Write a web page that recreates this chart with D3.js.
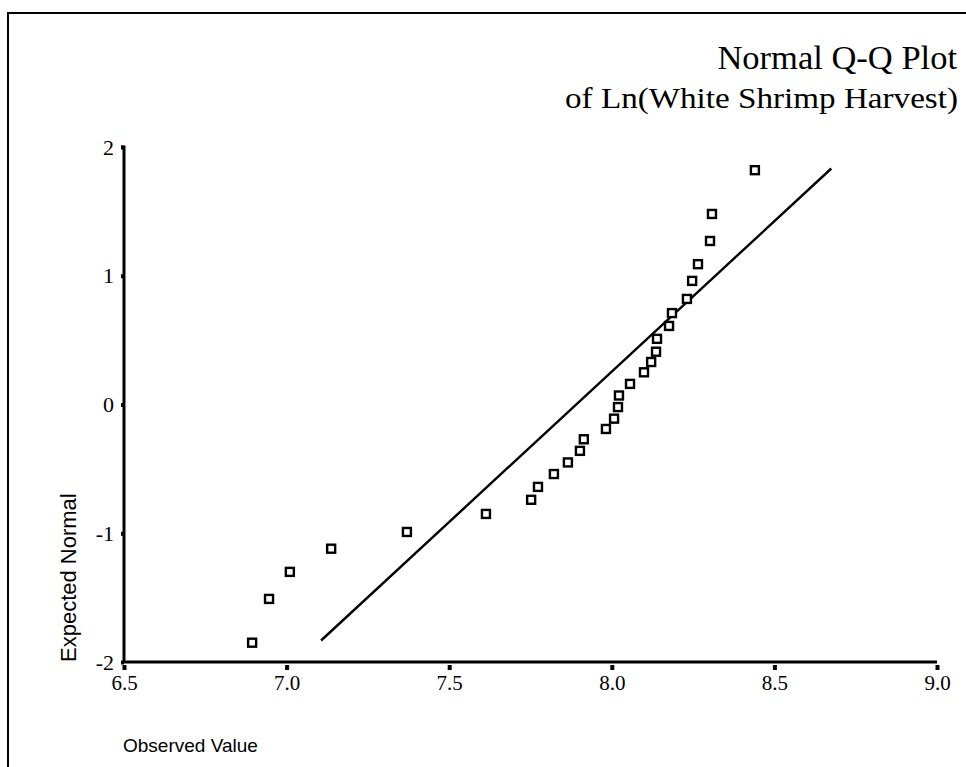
<!DOCTYPE html>
<html>
<head>
<meta charset="utf-8">
<script src="https://cdn.jsdelivr.net/npm/d3@7"></script>
<style>
  body { margin: 0; background: #fff; }
  svg { display: block; }
</style>
</head>
<body>
<svg id="chart" width="966" height="767"></svg>
<script>
// Observed values (Ln of white shrimp harvest)
const observed = [6.894, 6.946, 7.010, 7.137, 7.370, 7.613, 7.752, 7.773, 7.822, 7.865,
  7.902, 7.914, 7.982, 8.007, 8.019, 8.022, 8.056, 8.099, 8.121, 8.136,
  8.139, 8.176, 8.185, 8.231, 8.247, 8.265, 8.302, 8.308, 8.440];
// Expected normal values
const expected = [-1.85, -1.51, -1.30, -1.12, -0.99, -0.85, -0.74, -0.64, -0.54, -0.45,
  -0.36, -0.27, -0.19, -0.11, -0.02, 0.07, 0.16, 0.25, 0.33, 0.41,
  0.51, 0.61, 0.71, 0.82, 0.96, 1.09, 1.27, 1.48, 1.82];
// Reference line endpoints
const lineX = [7.106, 8.675];
const lineY = [-1.833, 1.833];
const xTicks = [6.5, 7.0, 7.5, 8.0, 8.5, 9.0];
const yTicks = [-2, -1, 0, 1, 2];

const serif = "Liberation Serif, Times New Roman, serif";
const sans = "Liberation Sans, Arial, sans-serif";

const svg = d3.select("#chart");
const x = d3.scaleLinear().domain([6.5, 9.0]).range([124, 937]);
const y = d3.scaleLinear().domain([-2, 2]).range([662, 147]);

// frame
svg.append("line").attr("x1", 7).attr("x2", 966).attr("y1", 13).attr("y2", 13)
  .attr("stroke", "#000").attr("stroke-width", 2);
svg.append("line").attr("x1", 8).attr("x2", 8).attr("y1", 13).attr("y2", 767)
  .attr("stroke", "#000").attr("stroke-width", 2);

// titles
svg.append("text").attr("x", 957).attr("y", 69).attr("text-anchor", "end")
  .attr("font-family", serif).attr("font-size", 34.5)
  .text("Normal Q-Q Plot");
svg.append("text").attr("x", 958).attr("y", 108).attr("text-anchor", "end")
  .attr("font-family", serif).attr("font-size", 30)
  .attr("textLength", 393).attr("lengthAdjust", "spacingAndGlyphs")
  .text("of Ln(White Shrimp Harvest)");

// axes
const xAxis = d3.axisBottom(x).tickValues(xTicks).tickFormat(d3.format(".1f")).tickSize(5).tickPadding(8);
const gx = svg.append("g").attr("transform", `translate(0,${y(-2)})`).call(xAxis);
gx.attr("font-size", 21).attr("font-family", serif);
gx.select(".domain").attr("stroke-width", 3).attr("d", `M${x(6.5)},0H${x(9.0)}`);
gx.selectAll(".tick line").attr("stroke-width", 4).attr("y1", 3).attr("y2", 8);
gx.selectAll(".tick text").attr("fill", "#000");

const yAxis = d3.axisLeft(y).tickValues(yTicks).tickFormat(d => String(d)).tickSize(3).tickPadding(7);
const gy = svg.append("g").attr("transform", `translate(${x(6.5)},0)`).call(yAxis);
gy.attr("font-size", 22).attr("font-family", serif);
gy.select(".domain").attr("stroke-width", 3).attr("d", `M-3,${y(2)}H0V${y(-2)}`);
gy.selectAll(".tick line").attr("stroke-width", 4);
gy.selectAll(".tick text").attr("fill", "#000");

// axis titles
svg.append("text").attr("transform", `translate(76,${y(-2)}) rotate(-90)`)
  .attr("text-anchor", "start")
  .attr("font-family", sans).attr("font-size", 22)
  .text("Expected Normal");
svg.append("text").attr("x", 123).attr("y", 752)
  .attr("font-family", sans).attr("font-size", 19)
  .text("Observed Value");

// reference line
svg.append("line")
  .attr("x1", x(lineX[0])).attr("y1", y(lineY[0]))
  .attr("x2", x(lineX[1])).attr("y2", y(lineY[1]))
  .attr("stroke", "#000").attr("stroke-width", 2.4);

// points
const s = 8;
svg.append("g").selectAll("rect").data(observed.map((o, i) => [o, expected[i]])).join("rect")
  .attr("x", d => x(d[0]) - s / 2).attr("y", d => y(d[1]) - s / 2)
  .attr("width", s).attr("height", s)
  .attr("fill", "#fff").attr("stroke", "#000").attr("stroke-width", 2.4);
</script>
</body>
</html>
